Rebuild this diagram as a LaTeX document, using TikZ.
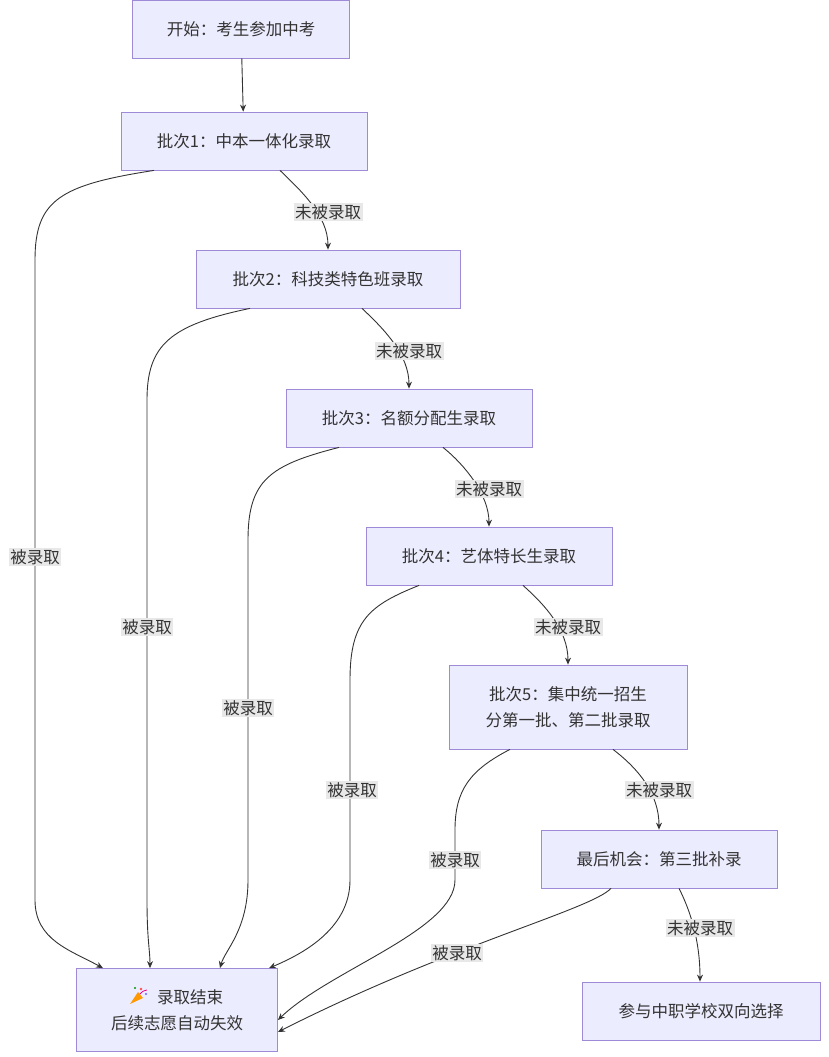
\documentclass[tikz,border=0pt]{standalone}
\usepackage{fontspec}
\setmainfont{Noto Sans CJK SC}
\usetikzlibrary{arrows.meta}
\definecolor{bx}{HTML}{ECECFF}
\definecolor{bd}{HTML}{9F8AD8}
\definecolor{tx}{HTML}{333333}
\definecolor{lb}{HTML}{E8E8E8}
\begin{document}
\begin{tikzpicture}[x=1pt,y=-1pt,
  box/.style={draw=bd,fill=bx,line width=0.8pt,text=tx,align=center,inner sep=0pt,font=\fontsize{16.5}{26}\selectfont},
  lab/.style={fill=lb,text=tx,inner sep=1.5pt,font=\fontsize{16.5}{18}\selectfont},
  ar/.style={draw=tx,line width=0.9pt,-{Stealth[length=7pt,width=6pt]}}]
\useasboundingbox (0,0) rectangle (828,1057);
\node[box,minimum width=217pt,minimum height=58pt] (s) at (241,29) {开始：考生参加中考};
\node[box,minimum width=246pt,minimum height=58pt] (b1) at (244,141) {批次1：中本一体化录取};
\node[box,minimum width=264pt,minimum height=58pt] (b2) at (328,279) {批次2：科技类特色班录取};
\node[box,minimum width=246pt,minimum height=58pt] (b3) at (409,418) {批次3：名额分配生录取};
\node[box,minimum width=246pt,minimum height=58pt] (b4) at (489,556) {批次4：艺体特长生录取};
\node[box,minimum width=238pt,minimum height=84pt] (b5) at (568,707) {批次5：集中统一招生\\分第一批、第二批录取};
\node[box,minimum width=236pt,minimum height=58pt] (l) at (659,859) {最后机会：第三批补录};
\node[box,minimum width=201pt,minimum height=83pt] (e) at (177,1010) {\hspace*{26pt}录取结束\\后续志愿自动失效};
\node[box,minimum width=238pt,minimum height=58pt] (a) at (701,1011) {参与中职学校双向选择};
% party icon
\begin{scope}[shift={(139,997)}]
\fill[orange!80!yellow] (-9,7) -- (-1,-5) -- (4,1) -- cycle;
\fill[red!70] (2,-8) circle (1.3pt);
\fill[blue!60] (7,-3) circle (1.2pt);
\fill[green!60!black] (-4,-9) circle (1.1pt);
\draw[magenta,line width=0.8pt] (1,-3) .. controls (4,-6) .. (8,-7);
\end{scope}
\draw[ar] (s) -- (b1);
\draw[ar] ([xshift=36pt]b1.south) .. controls (300,190) and (328,215) .. (b2.north);
\draw[ar] ([xshift=34pt]b2.south) .. controls (385,330) and (409,355) .. (b3.north);
\draw[ar] ([xshift=34pt]b3.south) .. controls (465,465) and (489,495) .. (b4.north);
\draw[ar] ([xshift=34pt]b4.south) .. controls (545,605) and (568,630) .. (b5.north);
\draw[ar] ([xshift=45pt]b5.south) .. controls (640,770) and (659,795) .. (l.north);
\draw[ar] ([xshift=20pt]l.south) .. controls (690,910) and (700,940) .. ([xshift=-1pt]a.north);
\node[lab] at (328,212) {未被录取};
\node[lab] at (409,351) {未被录取};
\node[lab] at (489,489) {未被录取};
\node[lab] at (568,627) {未被录取};
\node[lab] at (659,790) {未被录取};
\node[lab] at (700,928) {未被录取};
\draw[ar] ([xshift=-90pt]b1.south) .. controls (60,185) and (35,200) .. (35,260) -- (35,900) .. controls (35,940) and (70,950) .. ([xshift=-74pt]e.north);
\draw[ar] ([xshift=-78pt]b2.south) .. controls (170,325) and (147,345) .. (147,400) -- (147,900) .. controls (147,940) and (150,950) .. ([xshift=-27pt]e.north);
\draw[ar] ([xshift=-70pt]b3.south) .. controls (270,465) and (248,480) .. (248,540) -- (248,880) .. controls (248,930) and (225,950) .. ([xshift=43pt]e.north);
\draw[ar] ([xshift=-70pt]b4.south) .. controls (370,605) and (350,620) .. (350,680) -- (350,880) .. controls (350,930) and (300,955) .. ([xshift=92pt]e.north);
\draw[ar] ([xshift=-58pt]b5.south) .. controls (470,770) and (455,790) .. (455,830) -- (455,880) .. controls (455,930) and (330,970) .. ([yshift=-10pt]e.east);
\draw[ar] ([xshift=-48pt]l.south) .. controls (590,910) and (450,945) .. ([yshift=-22pt]e.east);
\node[lab] at (35,557) {被录取};
\node[lab] at (147,627) {被录取};
\node[lab] at (248,708) {被录取};
\node[lab] at (352,790) {被录取};
\node[lab] at (455,860) {被录取};
\node[lab] at (457,953) {被录取};
\end{tikzpicture}
\end{document}
